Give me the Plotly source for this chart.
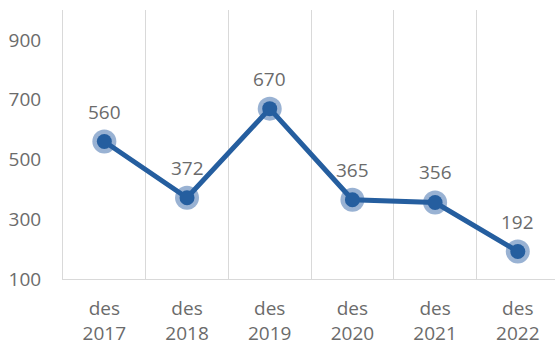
import plotly.graph_objects as go

# Year-end values (desember of each year)
categories = ["des<br>2017", "des<br>2018", "des<br>2019", "des<br>2020", "des<br>2021", "des<br>2022"]
values = [560, 372, 670, 365, 356, 192]
y_ticks = [100, 300, 500, 700, 900]

LINE_BLUE = "#255E9F"
HALO_BLUE = "rgba(70,115,175,0.55)"
TEXT_GRAY = "#6B6B6B"
GRID_GRAY = "#D9D9D9"
FONT = "Open Sans"
FSIZE = 19

fig = go.Figure()

# soft halo behind each point
fig.add_trace(go.Scatter(
    x=categories, y=values, mode="markers",
    marker=dict(size=24, color=HALO_BLUE),
    hoverinfo="skip", showlegend=False,
))

# main series
fig.add_trace(go.Scatter(
    x=categories, y=values, mode="lines+markers",
    line=dict(color=LINE_BLUE, width=5),
    marker=dict(size=15, color=LINE_BLUE),
    showlegend=False,
))

# value labels above the points
for c, v in zip(categories, values):
    fig.add_annotation(
        x=c, y=v, text=str(v), showarrow=False,
        yshift=30, yanchor="middle",
        font=dict(family=FONT, size=FSIZE, color=TEXT_GRAY),
    )

fig.update_layout(
    width=555, height=341,
    margin=dict(l=63, r=0, t=10, b=62),
    paper_bgcolor="white", plot_bgcolor="white",
    font=dict(family=FONT, size=FSIZE, color=TEXT_GRAY),
)

fig.update_xaxes(
    type="category",
    range=[-0.5, 5.45],
    tickson="boundaries",
    automargin=False,
    showgrid=True, gridcolor=GRID_GRAY, gridwidth=1,
    showline=True, linecolor=GRID_GRAY, linewidth=1,
    ticks="", ticklabelstandoff=12,
    tickfont=dict(family=FONT, size=FSIZE, color=TEXT_GRAY),
)

fig.update_yaxes(
    range=[100, 1000],
    tickvals=y_ticks,
    automargin=False,
    showgrid=False, zeroline=False,
    showline=True, linecolor=GRID_GRAY, linewidth=1,
    ticks="", ticklabelstandoff=17,
    tickfont=dict(family=FONT, size=FSIZE, color=TEXT_GRAY),
)

fig.write_html("out.html")
